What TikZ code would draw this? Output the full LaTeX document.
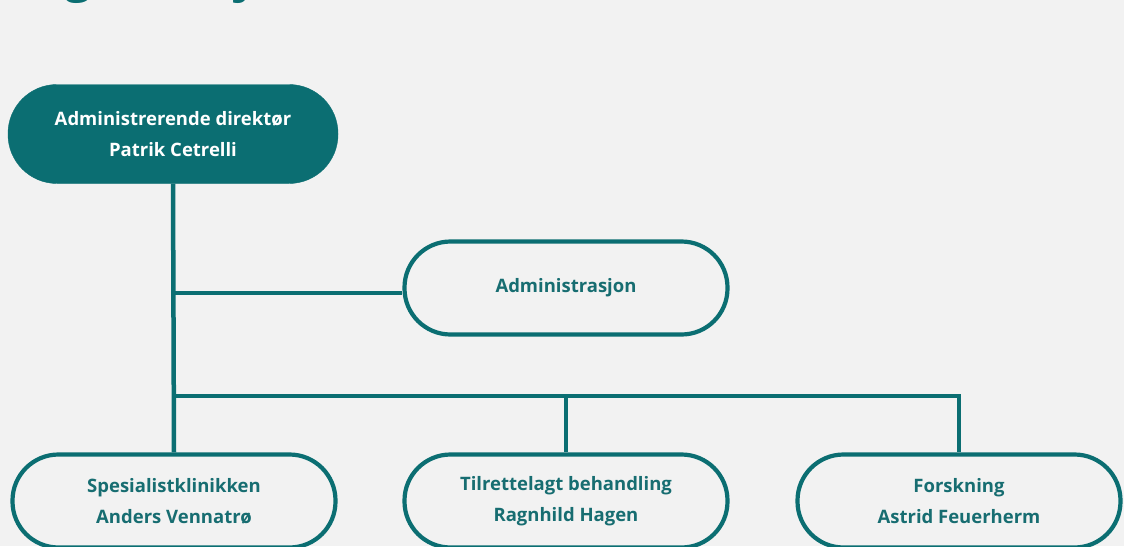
\documentclass[tikz,border=0pt]{standalone}
\usepackage{fontspec}
\setmainfont{Open Sans}
\definecolor{petrol}{HTML}{0B6E72}
\definecolor{petroltext}{HTML}{176D71}
\definecolor{paper}{HTML}{F2F2F2}
\tikzset{
  headbox/.style={rectangle, rounded corners=49pt, fill=petrol, draw=petrol,
    minimum width=330pt, minimum height=99pt, align=center, text=white,
    font=\fontsize{18.5}{31}\selectfont\bfseries},
  unitbox/.style={rectangle, rounded corners=46pt, fill=paper, draw=petrol, line width=4.2pt,
    minimum width=323pt, minimum height=93pt, align=center, text=petroltext,
    font=\fontsize{18.5}{31}\selectfont\bfseries},
  link/.style={draw=petrol, line width=4.5pt}
}
\begin{document}
\begin{tikzpicture}[x=1pt, y=-1pt]
    \fill[paper] (0,0) rectangle (1124,546);
    \useasboundingbox (0,0) rectangle (1124,546);
    \begin{scope}
    \clip (0,0) rectangle (1124,546);
    % cut-off title
    \node[anchor=base west, inner sep=0pt, text=petrol, font=\fontsize{46}{46}\selectfont\bfseries] (title) at (8,-8) {Organisasjonskart};

    \node[headbox] (ceo) at (173,134) {Administrerende direktør\\ Patrik Cetrelli};
    \node[unitbox] (adm) at (566,288) {Administrasjon};
    \node[unitbox] (spes) at (174,501) {Spesialistklinikken\\ Anders Vennatrø};
    \node[unitbox] (tilr) at (566,501) {Tilrettelagt behandling\\ Ragnhild Hagen};
    \node[unitbox] (forsk) at (959,501) {Forskning\\ Astrid Feuerherm};

    \coordinate (admjoin) at (ceo.south |- 0,293);
    \coordinate (bus) at (ceo.south |- 0,396);

    \draw[link] (ceo.south) -- (spes.north);
    \draw[link] (admjoin) -- (adm.west |- admjoin);
    \draw[link] (bus) -| (tilr.north);
    \draw[link] (bus) -| (forsk.north);
    \end{scope}
\end{tikzpicture}
\end{document}
